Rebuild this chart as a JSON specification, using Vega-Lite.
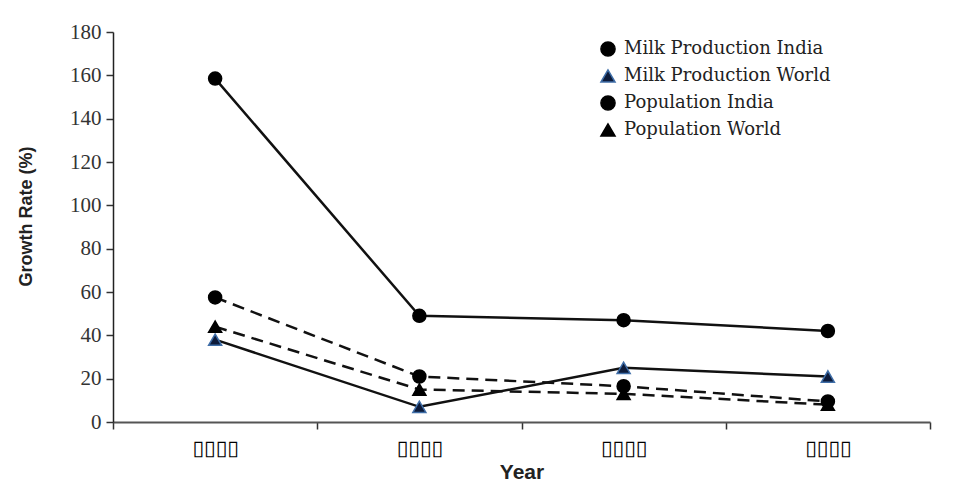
{
  "$schema": "https://vega.github.io/schema/vega-lite/v6.json",
  "width": 817,
  "height": 390,
  "autosize": "none",
  "padding": {"left": 113, "top": 32, "right": 26, "bottom": 61},
  "background": "white",
  "config": {
    "view": {"stroke": null},
    "legend": {
      "orient": "none", "legendX": 486, "legendY": 8, "title": null,
      "labelFont": "DejaVu Serif", "labelFontSize": 18, "labelColor": "#222", "labelLimit": 400,
      "symbolSize": 200, "rowPadding": 6, "labelOffset": 7
    }
  },
  "data": {"values": [
    {"year": "▯▯▯▯1", "series": "Milk Production India", "rate": 158.5},
    {"year": "▯▯▯▯2", "series": "Milk Production India", "rate": 49},
    {"year": "▯▯▯▯3", "series": "Milk Production India", "rate": 47},
    {"year": "▯▯▯▯4", "series": "Milk Production India", "rate": 42},
    {"year": "▯▯▯▯1", "series": "Milk Production World", "rate": 38},
    {"year": "▯▯▯▯2", "series": "Milk Production World", "rate": 7},
    {"year": "▯▯▯▯3", "series": "Milk Production World", "rate": 25},
    {"year": "▯▯▯▯4", "series": "Milk Production World", "rate": 21},
    {"year": "▯▯▯▯1", "series": "Population India", "rate": 57.5},
    {"year": "▯▯▯▯2", "series": "Population India", "rate": 21},
    {"year": "▯▯▯▯3", "series": "Population India", "rate": 16.5},
    {"year": "▯▯▯▯4", "series": "Population India", "rate": 9.5},
    {"year": "▯▯▯▯1", "series": "Population World", "rate": 44},
    {"year": "▯▯▯▯2", "series": "Population World", "rate": 15},
    {"year": "▯▯▯▯3", "series": "Population World", "rate": 13},
    {"year": "▯▯▯▯4", "series": "Population World", "rate": 8}
  ]},
  "encoding": {
    "x": {
      "field": "year", "type": "ordinal",
      "scale": {"type": "band", "paddingInner": 0, "paddingOuter": 0},
      "axis": {
        "title": "Year", "titleFont": "Liberation Sans", "titleFontSize": 21, "titleFontWeight": "bold", "titleColor": "#222", "titlePadding": 3,
        "labelExpr": "datum.label ? slice(datum.label, 0, 4) : ''", "labelAngle": 0, "labelFont": "DejaVu Sans", "labelFontSize": 21, "labelColor": "#000", "labelPadding": 8,
        "tickBand": "extent", "tickSize": 7, "tickColor": "#333", "tickWidth": 1.5,
        "domainColor": "#555", "domainWidth": 2, "grid": false
      }
    },
    "y": {
      "field": "rate", "type": "quantitative",
      "scale": {"domain": [0, 180], "nice": false},
      "axis": {
        "title": "Growth Rate (%)", "titleFont": "Liberation Sans", "titleFontSize": 18, "titleFontWeight": 600, "titleColor": "#222",
        "titleX": -87, "titleY": 184, "titleAngle": 270, "titleAlign": "center", "titleBaseline": "middle",
        "values": [0, 20, 40, 60, 80, 100, 120, 140, 160, 180],
        "labelFont": "Liberation Serif", "labelFontSize": 21, "labelColor": "#333", "labelPadding": 5,
        "tickSize": 7, "tickColor": "#333", "tickWidth": 1.5,
        "domainColor": "#222", "domainWidth": 1.5, "grid": false
      }
    }
  },
  "layer": [
    {
      "transform": [{"filter": "indexof(datum.series, 'Milk') == 0"}],
      "mark": {"type": "line", "strokeWidth": 2.5, "color": "#111"},
      "encoding": {"detail": {"field": "series"}}
    },
    {
      "transform": [{"filter": "indexof(datum.series, 'Population') == 0"}],
      "mark": {"type": "line", "strokeWidth": 2.5, "color": "#111", "strokeDash": [12, 7]},
      "encoding": {"detail": {"field": "series"}}
    },
    {
      "mark": {"type": "point", "filled": true, "size": 170, "opacity": 1, "strokeWidth": 1.5},
      "encoding": {
        "shape": {
          "field": "series", "type": "nominal",
          "scale": {"domain": ["Milk Production India", "Milk Production World", "Population India", "Population World"], "range": ["circle", "triangle-up", "circle", "triangle-up"]}
        },
        "color": {
          "field": "series", "type": "nominal",
          "scale": {"domain": ["Milk Production India", "Milk Production World", "Population India", "Population World"], "range": ["#000000", "#0d1b3a", "#000000", "#000000"]}
        },
        "stroke": {
          "field": "series", "type": "nominal",
          "scale": {"domain": ["Milk Production India", "Milk Production World", "Population India", "Population World"], "range": ["#000000", "#3f6ea8", "#000000", "#000000"]}
        }
      }
    }
  ]
}
